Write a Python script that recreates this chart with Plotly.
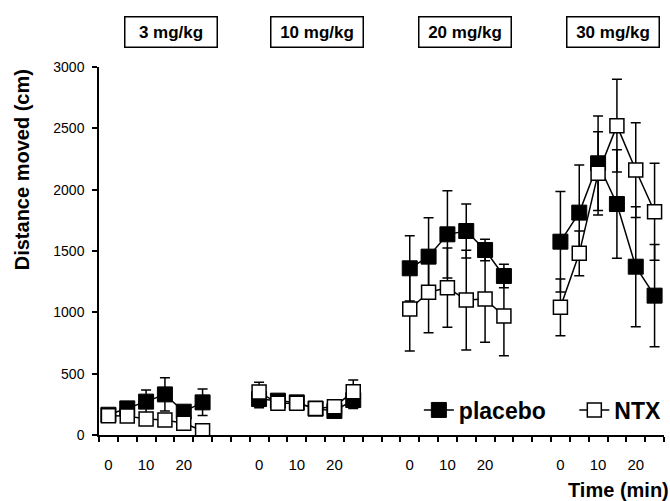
import plotly.graph_objects as go

# ---- data ----
doses = ["3 mg/kg", "10 mg/kg", "20 mg/kg", "30 mg/kg"]
times = [0, 5, 10, 15, 20, 25]
time_tick_labels = [0, 10, 20]

placebo_mean = [
    [165, 217, 272, 331, 190, 266],
    [293, 280, 266, 215, 196, 285],
    [1359, 1454, 1636, 1663, 1508, 1296],
    [1576, 1813, 2215, 1883, 1372, 1136],
]
placebo_sem = [
    [40, 45, 95, 136, 45, 108],
    [70, 40, 40, 40, 40, 68],
    [266, 318, 356, 220, 87, 96],
    [410, 388, 385, 443, 489, 416],
]
ntx_mean = [
    [157, 155, 130, 122, 95, 35],
    [350, 258, 258, 217, 231, 353],
    [1027, 1163, 1201, 1100, 1109, 970],
    [1041, 1481, 2133, 2522, 2160, 1820],
]
ntx_sem = [
    [40, 40, 40, 40, 40, 30],
    [80, 40, 40, 40, 40, 95],
    [342, 329, 323, 407, 353, 323],
    [231, 182, 340, 378, 386, 395],
]
y_ticks = [0, 500, 1000, 1500, 2000, 2500, 3000]

# ---- build category positions (6 time points + 2 empty slots per dose) ----
SLOTS = 8
STEP = 5


def flatten(groups):
    xs, ys = [], []
    for g, vals in enumerate(groups):
        for t, v in zip(times, vals):
            xs.append(g * SLOTS + t / STEP)
            ys.append(v)
        if g < len(groups) - 1:
            xs.append(g * SLOTS + len(times))
            ys.append(None)
    return xs, ys


px_, py_ = flatten(placebo_mean)
_, pe_ = flatten(placebo_sem)
nx_, ny_ = flatten(ntx_mean)
_, ne_ = flatten(ntx_sem)
pe_ = [0 if v is None else v for v in pe_]
ne_ = [0 if v is None else v for v in ne_]

n_cat = len(doses) * SLOTS - 2
FONT = "Liberation Sans, Arial, sans-serif"

fig = go.Figure()
fig.add_trace(go.Scatter(
    x=px_, y=py_, mode="lines+markers", name="placebo", legend="legend",
    line=dict(color="black", width=1.5),
    marker=dict(symbol="square", size=15, color="black",
                line=dict(color="black", width=1)),
    error_y=dict(type="data", array=pe_, visible=True, color="black",
                 thickness=1.5, width=5),
    connectgaps=False,
))
fig.add_trace(go.Scatter(
    x=nx_, y=ny_, mode="lines+markers", name="NTX", legend="legend2",
    line=dict(color="black", width=1.5),
    marker=dict(symbol="square", size=14, color="white",
                line=dict(color="black", width=1.5)),
    error_y=dict(type="data", array=ne_, visible=True, color="black",
                 thickness=1.5, width=5),
    connectgaps=False,
))
# invisible trace to carry the label axis
label_vals = [g * SLOTS + t / STEP for g in range(len(doses)) for t in time_tick_labels]
label_text = [str(t) for g in range(len(doses)) for t in time_tick_labels]
fig.add_trace(go.Scatter(x=label_vals, y=[None] * len(label_vals), xaxis="x2",
                         showlegend=False, hoverinfo="skip", mode="markers"))

PW, PL, PB, PH = 567, 99, 435, 368
leg_font = dict(family=FONT, size=23, color="black", weight="bold")
fig.update_layout(
    width=670, height=501,
    margin=dict(l=99, r=4, t=67, b=66, pad=0),
    paper_bgcolor="white", plot_bgcolor="white",
    font=dict(family=FONT, color="black", size=14),
    showlegend=True,
    legend=dict(x=(420 - PL) / PW, xanchor="left", y=(PB - 410) / PH,
                yanchor="middle", font=leg_font, bgcolor="rgba(0,0,0,0)",
                borderwidth=0, itemclick=False),
    legend2=dict(x=(576 - PL) / PW, xanchor="left", y=(PB - 410) / PH,
                 yanchor="middle", font=leg_font, bgcolor="rgba(0,0,0,0)",
                 borderwidth=0, itemclick=False),
    xaxis=dict(range=[-0.5, n_cat - 0.5],
               tickmode="array", tickvals=[i - 0.5 for i in range(n_cat + 1)],
               ticks="outside", ticklen=5, tickwidth=1.5, tickcolor="black",
               showticklabels=False, showline=True, linewidth=1.5,
               linecolor="black", showgrid=False, zeroline=False),
    xaxis2=dict(range=[-0.5, n_cat - 0.5], overlaying="x", side="bottom",
                tickmode="array", tickvals=label_vals, ticktext=label_text,
                ticks="", showline=False, showgrid=False, zeroline=False,
                ticklabelstandoff=19,
                tickfont=dict(family=FONT, size=15, color="black")),
    yaxis=dict(range=[0, 3000], tickmode="array", tickvals=y_ticks,
               ticks="outside", ticklen=5, tickwidth=1.5, tickcolor="black",
               showline=True, linewidth=1.5, linecolor="black",
               showgrid=False, zeroline=False, ticklabelstandoff=5,
               tickfont=dict(family=FONT, size=14, color="black")),
)

box_px = [171, 318, 466, 615]
for d, bx in zip(doses, box_px):
    fig.add_annotation(
        text="<b>%s</b>" % d, xref="paper", yref="paper",
        x=(bx - PL) / PW, y=(PB - 32) / PH, xanchor="center", yanchor="middle",
        showarrow=False, width=89, height=27, borderpad=1,
        bordercolor="black", borderwidth=1.5,
        font=dict(family=FONT, size=17, color="black"))

fig.add_annotation(text="<b>Distance moved (cm)</b>", textangle=-90,
                   xref="paper", yref="paper", x=(22 - PL) / PW,
                   y=(PB - 170) / PH, xanchor="center", yanchor="middle",
                   showarrow=False, font=dict(family=FONT, size=20, color="black"))
fig.add_annotation(text="<b>Time (min)</b>", xref="paper", yref="paper",
                   x=(673 - PL) / PW, y=(PB - 490) / PH, xanchor="right",
                   yanchor="middle", showarrow=False,
                   font=dict(family=FONT, size=20, color="black"))

fig.write_html("out.html")
